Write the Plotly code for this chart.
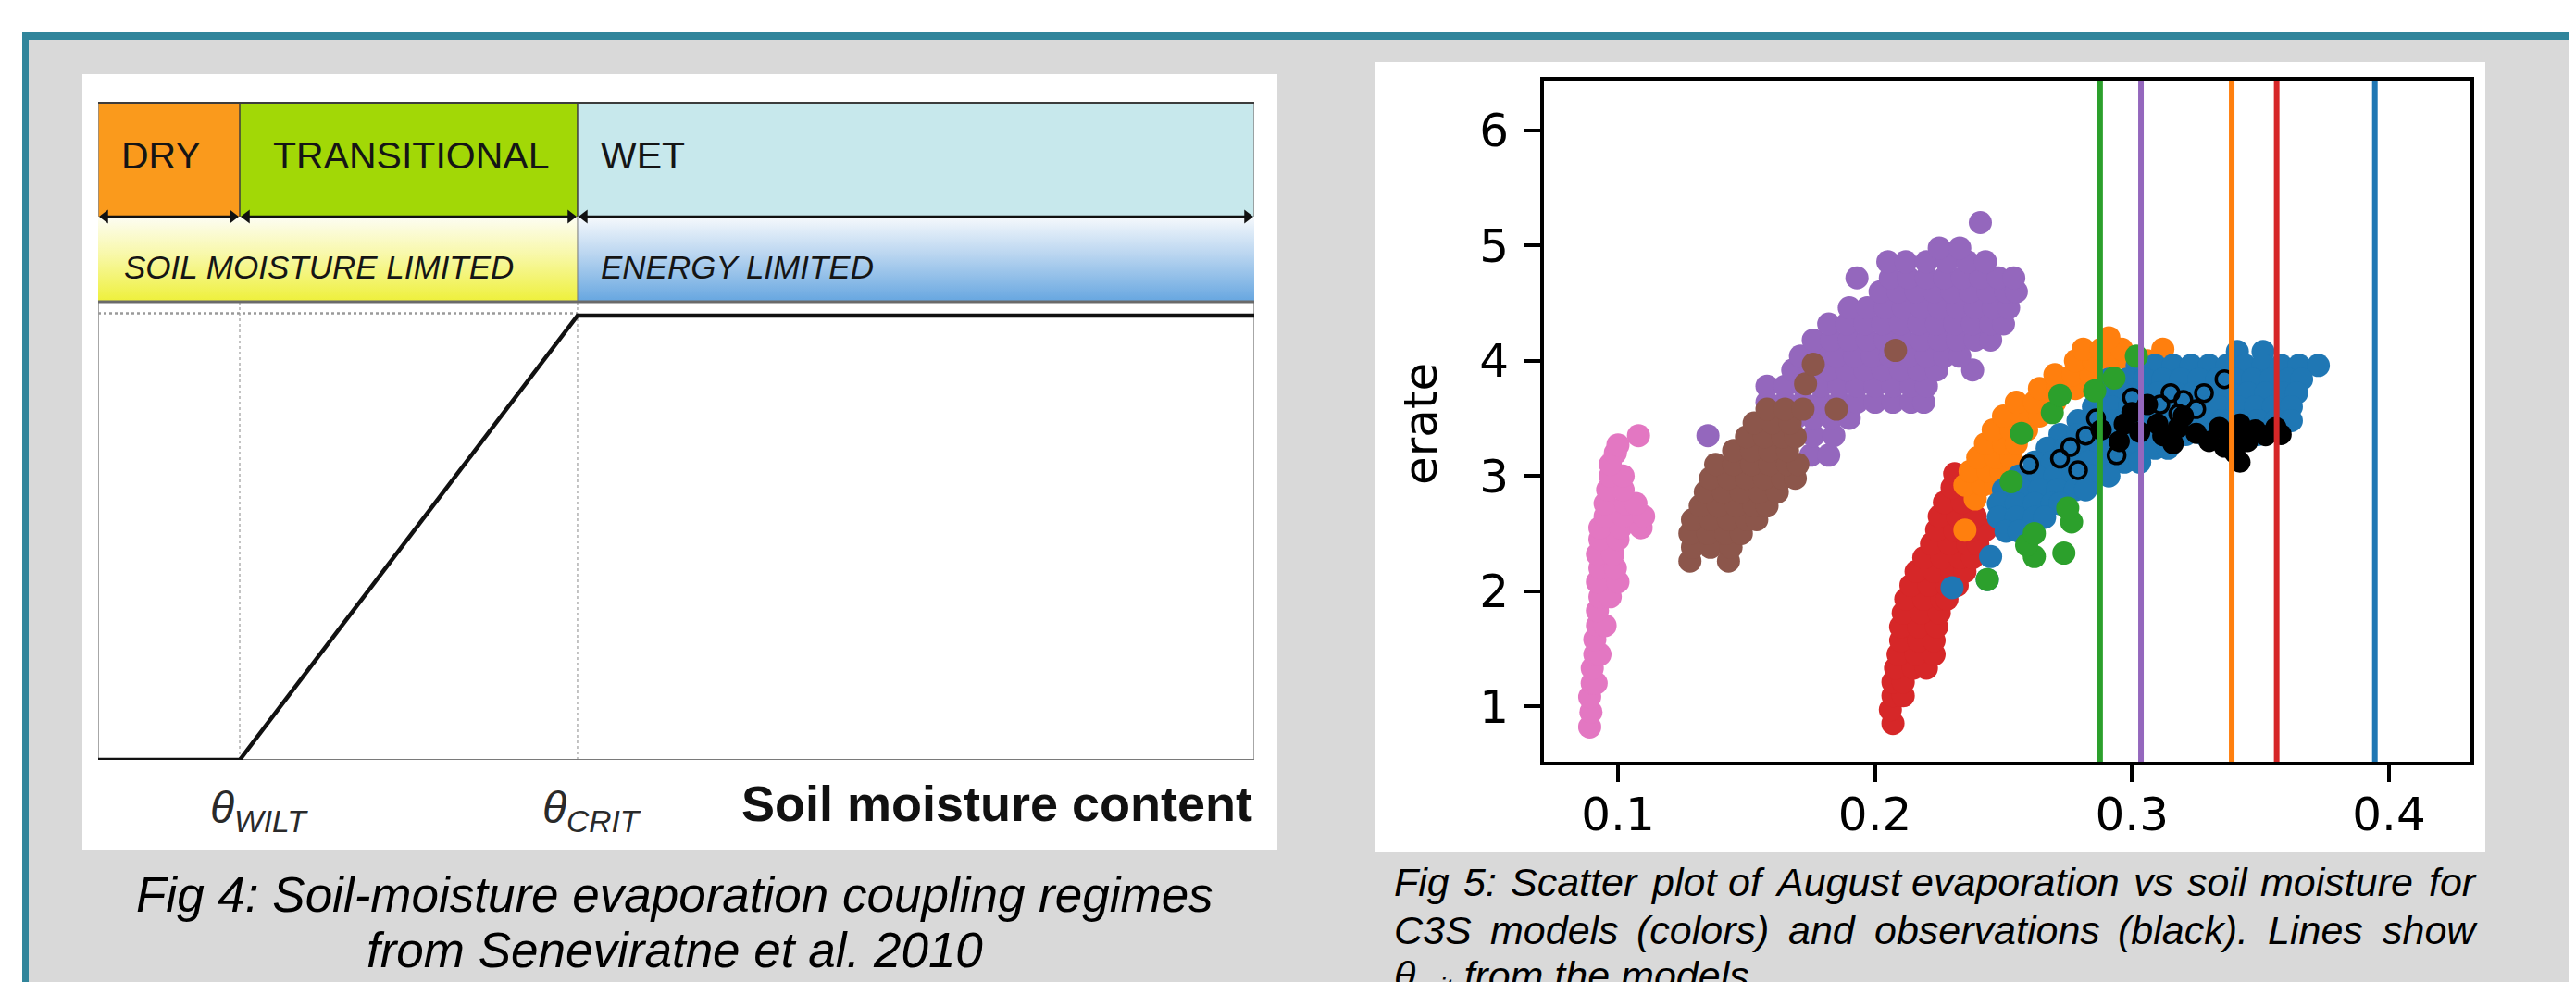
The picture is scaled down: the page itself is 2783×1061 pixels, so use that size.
import plotly.graph_objects as go

W, H = 2783, 1061

# ---------------- Fig 5 data ----------------
# rows: (erate, [soil moisture values])
red_rows = [
    (0.85, [0.207]), (0.97, [0.206]), (1.09, [0.207, 0.211]), (1.21, [0.207, 0.211]),
    (1.33, [0.208, 0.215, 0.220]), (1.45, [0.209, 0.216, 0.223]), (1.57, [0.210, 0.217, 0.223]),
    (1.69, [0.210, 0.217, 0.224]), (1.81, [0.211, 0.218, 0.225]), (1.93, [0.212, 0.219, 0.226, 0.228]),
    (2.05, [0.214, 0.221, 0.228, 0.232]), (2.17, [0.216, 0.223, 0.230, 0.235]),
    (2.29, [0.219, 0.226, 0.233, 0.238]), (2.41, [0.222, 0.229, 0.236, 0.240]),
    (2.53, [0.224, 0.231, 0.238, 0.243]), (2.65, [0.225, 0.232, 0.239]), (2.77, [0.227, 0.234]),
    (2.90, [0.230]), (3.02, [0.231]), (4.06, [0.294]),
]
orange_rows = [
    (2.53, [0.235]), (2.80, [0.239]), (2.92, [0.235, 0.242, 0.247]), (3.04, [0.237, 0.244, 0.249]),
    (3.16, [0.240, 0.247, 0.253]), (3.28, [0.243, 0.250, 0.255]), (3.40, [0.246, 0.253, 0.259]),
    (3.52, [0.250, 0.257, 0.264]), (3.64, [0.255, 0.262, 0.270]), (3.76, [0.264, 0.271, 0.278]),
    (3.88, [0.270, 0.277, 0.284]), (4.00, [0.278, 0.285, 0.292, 0.299, 0.306]),
    (4.10, [0.281, 0.288, 0.296, 0.312]), (4.20, [0.291]),
]
blue_rows = [
    (4.08, [0.341, 0.351]),
    (3.96, [0.302, 0.309, 0.316, 0.323, 0.330, 0.337, 0.344, 0.351, 0.358, 0.365, 0.3725]),
    (3.84, [0.291, 0.298, 0.305, 0.312, 0.319, 0.326, 0.333, 0.340, 0.347, 0.354, 0.361, 0.366]),
    (3.72, [0.289, 0.296, 0.303, 0.310, 0.317, 0.324, 0.331, 0.338, 0.345, 0.352, 0.359, 0.364]),
    (3.60, [0.285, 0.292, 0.299, 0.306, 0.313, 0.320, 0.327, 0.334, 0.341, 0.348, 0.355, 0.362]),
    (3.48, [0.279, 0.286, 0.293, 0.300, 0.307, 0.314, 0.321, 0.328, 0.335, 0.342, 0.349, 0.356, 0.362]),
    (3.36, [0.272, 0.279, 0.286, 0.293, 0.300, 0.307, 0.314, 0.321, 0.328, 0.335, 0.342, 0.349]),
    (3.24, [0.267, 0.274, 0.281, 0.288, 0.295, 0.302, 0.309, 0.314]),
    (3.12, [0.262, 0.269, 0.276, 0.283, 0.290, 0.297, 0.303]),
    (3.00, [0.256, 0.263, 0.270, 0.277, 0.284, 0.291]),
    (2.88, [0.250, 0.257, 0.264, 0.271, 0.278, 0.282]),
    (2.76, [0.248, 0.255, 0.262, 0.269, 0.272]),
    (2.64, [0.248, 0.255, 0.262, 0.266]),
    (2.52, [0.251, 0.256]), (2.30, [0.245]), (2.10, [0.2437]), (2.03, [0.230]),
]
green_rows = [
    (2.10, [0.2437]), (2.30, [0.262]), (2.33, [0.2735]), (2.40, [0.259]), (2.50, [0.262]),
    (2.60, [0.2765]), (2.72, [0.275]), (2.95, [0.253]), (3.37, [0.257]), (3.55, [0.269]),
    (3.70, [0.272]), (3.74, [0.2855]), (3.85, [0.293]), (4.04, [0.3017]),
]
purple_rows = [
    (3.18, [0.175, 0.182]), (3.35, [0.135, 0.168, 0.176, 0.184]),
    (3.50, [0.162, 0.169, 0.176, 0.183, 0.190]),
    (3.64, [0.158, 0.165, 0.172, 0.179, 0.186, 0.193, 0.200, 0.207, 0.214, 0.219]),
    (3.78, [0.158, 0.165, 0.172, 0.179, 0.186, 0.193, 0.200, 0.207, 0.214, 0.220]),
    (3.92, [0.168, 0.175, 0.182, 0.189, 0.196, 0.203, 0.210, 0.217, 0.224, 0.238]),
    (4.04, [0.171, 0.178, 0.185, 0.192, 0.199, 0.206, 0.213, 0.220, 0.227, 0.233]),
    (4.18, [0.176, 0.183, 0.190, 0.197, 0.204, 0.211, 0.218, 0.225, 0.232, 0.239, 0.245]),
    (4.32, [0.182, 0.189, 0.196, 0.203, 0.210, 0.217, 0.224, 0.231, 0.238, 0.245, 0.250]),
    (4.46, [0.190, 0.197, 0.204, 0.211, 0.218, 0.225, 0.232, 0.239, 0.246, 0.252]),
    (4.60, [0.202, 0.209, 0.216, 0.223, 0.230, 0.237, 0.244, 0.251, 0.255]),
    (4.72, [0.193, 0.206, 0.213, 0.220, 0.227, 0.234, 0.241, 0.248, 0.254]),
    (4.86, [0.205, 0.212, 0.220, 0.228, 0.236, 0.243]),
    (4.98, [0.225, 0.233]), (5.20, [0.241]),
]
brown_rows = [
    (2.26, [0.128, 0.143]), (2.38, [0.129, 0.136, 0.144]), (2.50, [0.128, 0.135, 0.142, 0.148]),
    (2.62, [0.129, 0.136, 0.143, 0.150, 0.154]), (2.74, [0.132, 0.139, 0.146, 0.153, 0.158]),
    (2.86, [0.134, 0.141, 0.148, 0.155, 0.162]), (2.98, [0.136, 0.143, 0.150, 0.157, 0.164, 0.169]),
    (3.10, [0.138, 0.145, 0.152, 0.159, 0.166, 0.170]), (3.22, [0.145, 0.152, 0.159, 0.166]),
    (3.34, [0.150, 0.157, 0.164, 0.169]), (3.46, [0.153, 0.160, 0.167]),
    (3.58, [0.158, 0.165, 0.172, 0.185]), (3.80, [0.173]), (3.97, [0.176]), (4.09, [0.208]),
]
pink_rows = [
    (0.82, [0.089]), (0.95, [0.0895]), (1.08, [0.089]), (1.20, [0.090, 0.0915]), (1.33, [0.090]),
    (1.45, [0.091, 0.093]), (1.58, [0.091]), (1.70, [0.092, 0.095]), (1.83, [0.092]),
    (1.95, [0.093, 0.097]), (2.08, [0.092, 0.100]), (2.20, [0.093, 0.099]), (2.32, [0.092, 0.098]),
    (2.45, [0.093, 0.100]), (2.55, [0.093, 0.101, 0.109]), (2.65, [0.095, 0.102, 0.110]),
    (2.76, [0.095, 0.103, 0.107]), (2.88, [0.096, 0.102]), (3.00, [0.097, 0.102]),
    (3.10, [0.097]), (3.20, [0.099]), (3.27, [0.100]), (3.35, [0.108]),
]
obs_fill_x = [0.288, 0.295, 0.297, 0.303, 0.300, 0.306, 0.310, 0.312, 0.318, 0.320, 0.325, 0.330,
              0.334, 0.338, 0.342, 0.345, 0.348, 0.352, 0.356, 0.358, 0.340, 0.342, 0.336, 0.316]
obs_fill_y = [3.40, 3.30, 3.45, 3.38, 3.55, 3.62, 3.45, 3.35, 3.42, 3.52, 3.37, 3.30,
              3.42, 3.35, 3.45, 3.30, 3.40, 3.35, 3.42, 3.36, 3.20, 3.12, 3.25, 3.28]
obs_open_x = [0.260, 0.272, 0.276, 0.279, 0.282, 0.286, 0.294, 0.300, 0.311, 0.315, 0.320, 0.325,
              0.318, 0.328, 0.336]
obs_open_y = [3.10, 3.15, 3.25, 3.05, 3.35, 3.50, 3.18, 3.68, 3.62, 3.72, 3.66, 3.58,
              3.54, 3.72, 3.84]

crit_values = [0.2876, 0.3035, 0.3388, 0.3563, 0.3945]
crit_colors = ["#2ca02c", "#9467bd", "#ff7f0e", "#d62728", "#1f77b4"]

x_ticks = [0.1, 0.2, 0.3, 0.4]
y_ticks = [1, 2, 3, 4, 5, 6]

# ---------------- Fig 4 diagram data ----------------
SM_WILT, SM_CRIT = 0.1225, 0.4147
diag_x = [0.0, SM_WILT, SM_CRIT, 1.0]
diag_y = [0.0, 0.0, 1.0, 1.0]
regime_names = ["DRY", "TRANSITIONAL", "WET"]
regime_bounds = [0.0, SM_WILT, SM_CRIT, 1.0]
regime_colors = ["#fa9a1c", "#a2d806", "#c7e8ec"]
limit_names = ["SOIL MOISTURE LIMITED", "ENERGY LIMITED"]

E_TOP, E_ARROW, E_BAND2 = 1.48125, 1.2229, 1.03125
DIAG_L, DIAG_R = 98, 1347   # pixel extent of the diagram axis


def flat(rows):
    xs = [x for _, xl in rows for x in xl]
    ys = [y for y, xl in rows for _ in xl]
    return xs, ys


def PX(x):
    return x / W


def PY(y):
    return 1 - y / H


def diag_px(v):
    return DIAG_L + v * (DIAG_R - DIAG_L)


fig = go.Figure()

MS = 25
# ---- scatter clouds ----
for rows, col in [(red_rows, "#d62728"), (orange_rows, "#ff7f0e"), (blue_rows, "#1f77b4"),
                  (green_rows, "#2ca02c"), (purple_rows, "#9467bd"), (brown_rows, "#8c564b"),
                  (pink_rows, "#e377c2")]:
    xs, ys = flat(rows)
    fig.add_trace(go.Scatter(x=xs, y=ys, mode="markers", xaxis="x", yaxis="y",
                             marker=dict(color=col, size=MS, line=dict(width=0)),
                             showlegend=False, hoverinfo="skip"))
fig.add_trace(go.Scatter(x=obs_fill_x, y=obs_fill_y, mode="markers", xaxis="x", yaxis="y",
                         marker=dict(color="black", size=MS - 2, line=dict(width=0)),
                         showlegend=False, hoverinfo="skip"))
fig.add_trace(go.Scatter(x=obs_open_x, y=obs_open_y, mode="markers", xaxis="x", yaxis="y",
                         marker=dict(symbol="circle-open", color="black", size=18,
                                     line=dict(width=3.5, color="black")),
                         showlegend=False, hoverinfo="skip"))

# ---- diagram traces ----
grad_specs = [
    (0.0, SM_CRIT, [[0, "#eef03a"], [0.55, "#f8f8a8"], [1, "#fdfdf4"]]),
    (SM_CRIT, 1.0, [[0, "#66a6e0"], [0.55, "#b9d5f0"], [1, "#f6f9fc"]]),
]
for x0, x1, cs in grad_specs:
    fig.add_trace(go.Scatter(x=[x0, x1, x1, x0, x0], y=[E_BAND2, E_BAND2, E_ARROW, E_ARROW, E_BAND2],
                             mode="lines", fill="toself", line=dict(width=0),
                             fillgradient=dict(type="vertical", colorscale=cs,
                                               start=E_BAND2, stop=E_ARROW),
                             xaxis="x2", yaxis="y2", showlegend=False, hoverinfo="skip"))

# double-headed arrows spanning each regime
for i in range(3):
    fig.add_trace(go.Scatter(x=[regime_bounds[i] + 0.006, regime_bounds[i + 1] - 0.006],
                             y=[E_ARROW, E_ARROW], mode="lines+markers",
                             line=dict(color="#111111", width=2.5),
                             marker=dict(symbol=["triangle-left", "triangle-right"], size=13,
                                         color="#111111", line=dict(width=0)),
                             xaxis="x2", yaxis="y2", showlegend=False, hoverinfo="skip"))

fig.add_trace(go.Scatter(x=diag_x, y=diag_y, mode="lines", line=dict(color="#111111", width=4.5),
                         xaxis="x2", yaxis="y2", showlegend=False, hoverinfo="skip"))

shapes = []
# page background frame
shapes.append(dict(type="rect", xref="paper", yref="paper", x0=PX(23), x1=1, y0=0, y1=PY(35),
                   fillcolor="#d9d9d9", line=dict(width=0), layer="below"))
shapes.append(dict(type="rect", xref="paper", yref="paper", x0=PX(16), x1=1, y0=PY(35), y1=PY(27),
                   fillcolor="#31859b", line=dict(width=0), layer="below"))
shapes.append(dict(type="rect", xref="paper", yref="paper", x0=PX(16), x1=PX(23), y0=0, y1=PY(27),
                   fillcolor="#31859b", line=dict(width=0), layer="below"))
# white panels
shapes.append(dict(type="rect", xref="paper", yref="paper", x0=PX(81), x1=PX(1372), y0=PY(910), y1=PY(72),
                   fillcolor="white", line=dict(width=0), layer="below"))
shapes.append(dict(type="rect", xref="paper", yref="paper", x0=PX(1477), x1=PX(2677), y0=PY(913), y1=PY(59),
                   fillcolor="white", line=dict(width=0), layer="below"))

# regime boxes
for i in range(3):
    shapes.append(dict(type="rect", xref="x2", yref="y2", x0=regime_bounds[i], x1=regime_bounds[i + 1],
                       y0=E_ARROW, y1=E_TOP, fillcolor=regime_colors[i], line=dict(width=0), layer="below"))
shapes.append(dict(type="line", xref="x2", yref="y2", x0=0, x1=1, y0=E_TOP, y1=E_TOP,
                   line=dict(color="#3c3c3c", width=4), layer="above"))
for xb in [SM_WILT, SM_CRIT]:
    shapes.append(dict(type="line", xref="x2", yref="y2", x0=xb, x1=xb, y0=E_ARROW, y1=E_TOP,
                       line=dict(color="#3c3c3c", width=1.5), layer="above"))
    shapes.append(dict(type="line", xref="x2", yref="y2", x0=xb, x1=xb, y0=0, y1=E_BAND2,
                       line=dict(color="#b0b0b0", width=1.5, dash="dot"), layer="below"))
shapes.append(dict(type="line", xref="x2", yref="y2", x0=SM_CRIT, x1=SM_CRIT, y0=E_BAND2, y1=E_ARROW,
                   line=dict(color="#777777", width=1), layer="above"))
shapes.append(dict(type="line", xref="x2", yref="y2", x0=0, x1=1, y0=E_BAND2, y1=E_BAND2,
                   line=dict(color="#6a6a6a", width=3), layer="above"))
for xb in [0, 1]:
    shapes.append(dict(type="line", xref="x2", yref="y2", x0=xb, x1=xb, y0=0, y1=E_TOP,
                       line=dict(color="#8a8a8a", width=1.5), layer="below"))
shapes.append(dict(type="line", xref="x2", yref="y2", x0=0, x1=1, y0=0, y1=0,
                   line=dict(color="#7a7a7a", width=2), layer="below"))
shapes.append(dict(type="line", xref="x2", yref="y2", x0=0, x1=SM_CRIT, y0=1.005, y1=1.005,
                   line=dict(color="#9a9a9a", width=2.5, dash="dot"), layer="below"))

# theta_crit lines in scatter
for v, c in zip(crit_values, crit_colors):
    shapes.append(dict(type="line", xref="x", yref="y domain", x0=v, x1=v, y0=0, y1=1,
                       line=dict(color=c, width=6), layer="above"))

ann = []
FONT = "Liberation Sans, Arial, sans-serif"
# regime labels
label_shift = [23, 34, 23]
for i, name in enumerate(regime_names):
    ann.append(dict(x=regime_bounds[i], y=1.3604, xref="x2", yref="y2", text=name, showarrow=False,
                    xanchor="left", yanchor="middle", xshift=label_shift[i],
                    font=dict(family=FONT, size=41, color="#151515")))
for j, name in enumerate(limit_names):
    ann.append(dict(x=[0.0, SM_CRIT][j], y=1.1104, xref="x2", yref="y2", text=name, showarrow=False,
                    xanchor="left", yanchor="middle", xshift=[26, 23][j],
                    font=dict(family=FONT, size=35, color="#151515", style="italic")))
# theta labels (below the diagram axis, placed in paper space at the threshold positions)
ann.append(dict(x=PX(diag_px(SM_WILT) + 21), y=PY(868), xref="paper", yref="paper",
                text="<i>θ</i><sub><i>WILT</i></sub>", showarrow=False, xanchor="center", yanchor="middle",
                font=dict(family=FONT, size=48, color="#2a2a2a")))
ann.append(dict(x=PX(diag_px(SM_CRIT) + 16), y=PY(868), xref="paper", yref="paper",
                text="<i>θ</i><sub><i>CRIT</i></sub>", showarrow=False, xanchor="center", yanchor="middle",
                font=dict(family=FONT, size=48, color="#2a2a2a")))
ann.append(dict(x=PX(diag_px(1.0)), y=PY(860), xref="paper", yref="paper",
                text="<b>Soil moisture content</b>",
                showarrow=False, xanchor="right", yanchor="middle",
                font=dict(family=FONT, size=54, color="#111111")))

# left caption
for txt, yc in [("Fig 4: Soil-moisture evaporation coupling regimes", 958),
                ("from Seneviratne et al. 2010", 1018)]:
    ann.append(dict(x=PX(721), y=PY(yc), xref="paper", yref="paper", text=txt, showarrow=False,
                    xanchor="center", yanchor="middle",
                    font=dict(family=FONT, size=53, color="black", style="italic")))

# right caption (justified lines)
cap1 = ["Fig", "5:", "Scatter", "plot", "of", "August", "evaporation", "vs", "soil", "moisture", "for"]
cap1_x = [1496, 1571, 1622, 1773, 1857, 1907, 2055, 2295, 2353, 2432, 2614]
cap2 = ["C3S", "models", "(colors)", "and", "observations", "(black).", "Lines", "show"]
cap2_x = [1496, 1600, 1758, 1922, 2015, 2278, 2440, 2564]
for words, xs, yc in [(cap1, cap1_x, 945), (cap2, cap2_x, 997)]:
    for w, xw in zip(words, xs):
        ann.append(dict(x=PX(xw), y=PY(yc), xref="paper", yref="paper", text=w, showarrow=False,
                        xanchor="left", yanchor="middle",
                        font=dict(family=FONT, size=43, color="black", style="italic")))
ann.append(dict(x=PX(1496), y=PY(1049), xref="paper", yref="paper",
                text="θ<sub>crit</sub> from the models.", showarrow=False, xanchor="left", yanchor="middle",
                font=dict(family=FONT, size=43, color="black", style="italic")))

# y-axis title of scatter
ann.append(dict(x=PX(1527), y=PY(450), xref="paper", yref="paper", text="erate", showarrow=False,
                textangle=-90, xanchor="center", yanchor="middle",
                font=dict(family="DejaVu Sans", size=50, color="black")))

tickfont = dict(family="DejaVu Sans", size=50, color="black")
fig.update_layout(
    width=W, height=H, margin=dict(l=0, r=0, t=0, b=0),
    paper_bgcolor="white", plot_bgcolor="rgba(0,0,0,0)",
    showlegend=False,
    xaxis=dict(domain=[1660 / W, 2661 / W], range=[0.0712, 0.4317], tickvals=x_ticks,
               ticktext=[f"{v:.1f}" for v in x_ticks], ticks="outside", ticklen=18, tickwidth=4,
               tickcolor="black", showline=True, mirror=True, linewidth=4, linecolor="black",
               showgrid=False, zeroline=False, tickfont=tickfont, anchor="y", fixedrange=True,
               ticklabelstandoff=-8),
    yaxis=dict(domain=[1 - 815 / H, 1 - 79 / H], range=[0.518, 6.434], tickvals=y_ticks,
               ticktext=[str(v) for v in y_ticks], ticks="outside", ticklen=18, tickwidth=4,
               tickcolor="black", showline=True, mirror=True, linewidth=4, linecolor="black",
               showgrid=False, zeroline=False, tickfont=tickfont, anchor="x", fixedrange=True,
               ticklabelstandoff=6),
    xaxis2=dict(domain=[DIAG_L / W, DIAG_R / W], range=[0, 1], visible=False, anchor="y2", fixedrange=True),
    yaxis2=dict(domain=[1 - 813 / H, 1 - 102 / H], range=[0, E_TOP], visible=False, anchor="x2",
                fixedrange=True),
    shapes=shapes,
    annotations=ann,
)

fig.write_html("out.html")
